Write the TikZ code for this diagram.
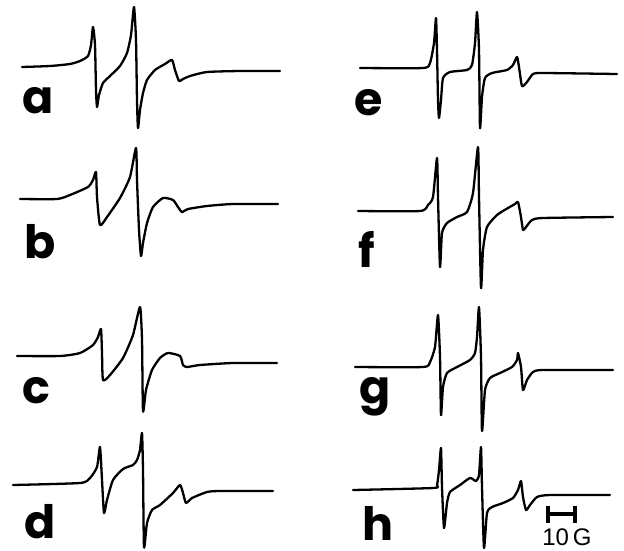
\documentclass[tikz,border=0pt]{standalone}
\usepackage{fontspec}
\setmainfont{Poppins}
\newfontfamily\barfont{Liberation Sans}
\tikzset{
  spec/.style={line width=2.3pt, line join=round, line cap=round, black},
  lab/.style={anchor=base west, inner sep=0pt, text depth=0pt, font=\fontsize{46}{46}\selectfont\bfseries},
  barline/.style={line width=3.5pt, black}
}
\begin{document}
\begin{tikzpicture}[x=1pt,y=-1pt]
\useasboundingbox (0,0) rectangle (624,550);
% a
\draw[spec] plot[smooth, tension=0.35] coordinates {(22,67) (50,66) (70,64) (80,61) (88,56) (91,45) (93,27) (95,45) (96,90) (97,107) (99,95) (103,83) (110,76) (120,66) (127,53) (131,35) (134,7) (136,40) (137,100) (138,128) (140,110) (143,93) (147,80) (155,70) (165,64) (172,60) (175,70) (179,81) (183,79) (190,76) (207,72) (240,71) (280,71)};
\node[lab] (la) at (22,113) {a};
% b
\draw[spec] plot[smooth, tension=0.35] coordinates {(20,199) (57,199) (70,195) (88,187) (93,180) (96,172) (97,197) (100,225) (107,217) (120,198) (130,177) (136,148) (137,180) (139,230) (141,256) (143,243) (147,223) (153,207) (163,198) (173,200) (178,207) (182,212) (188,209) (207,206) (233,204) (278,204)};
\node[lab] (lb) at (24,258) {b};
% c
\draw[spec] plot[smooth, tension=0.35] coordinates {(17,356) (60,356) (80,353) (93,345) (98,337) (101,329) (102,353) (103,380) (110,375) (123,358) (133,335) (140,307) (142,340) (143,411) (146,390) (152,370) (160,358) (168,353) (180,356) (183,365) (187,367) (200,365) (233,363) (277,363)};
\node[lab] (lc) at (22,403) {c};
% d
\draw[spec] plot[smooth, tension=0.35] coordinates {(13,485) (80,483) (90,478) (97,467) (100,447) (102,480) (104,513) (107,500) (113,480) (123,469) (133,465) (137,460) (140,450) (142,433) (143,470) (144,547) (147,523) (152,510) (160,505) (173,493) (180,485) (183,493) (186,503) (192,498) (207,492) (220,491) (273,491)};
\node[lab] (ld) at (24,538) {d};
% e
\draw[spec] plot[smooth, tension=0.35] coordinates {(360,68) (423,68) (430,63) (434,43) (436,18) (437,50) (438,100) (439,118) (441,100) (443,78) (450,72) (467,70) (472,65) (475,43) (477,12) (479,50) (480,128) (482,97) (485,78) (492,73) (507,70) (513,65) (517,57) (519,67) (522,86) (527,82) (533,74) (543,73) (617,74)};
\node[lab] (le) at (354,115) {e};
% f
\draw[spec] plot[smooth, tension=0.35] coordinates {(358,211) (420,211) (428,205) (433,197) (437,158) (438,197) (440,267) (442,233) (447,223) (457,217) (467,212) (473,193) (478,147) (479,197) (481,288) (483,250) (487,227) (497,215) (508,208) (515,204) (518,202) (521,217) (523,230) (526,227) (532,220) (543,218) (613,217)};
\node[lab] (lf) at (358,267) {f};
% g
\draw[spec] plot[smooth, tension=0.35] coordinates {(355,367) (423,367) (430,362) (435,347) (438,315) (440,357) (441,415) (443,387) (447,373) (457,367) (470,360) (475,353) (477,337) (479,307) (481,357) (482,431) (485,390) (490,378) (500,373) (512,367) (517,360) (518,353) (521,367) (523,390) (527,380) (533,372) (543,370) (613,370)};
\node[lab] (lg) at (359,403) {g};
% h
\draw[spec] plot[smooth, tension=0.35] coordinates {(353,490) (433,488) (437,485) (439,470) (441,448) (442,487) (444,528) (447,503) (450,492) (460,485) (470,478) (476,481) (479,475) (481,447) (482,487) (484,548) (487,513) (492,507) (503,503) (513,498) (518,490) (521,481) (523,497) (526,510) (530,505) (537,497) (550,495) (610,495)};
\node[lab] (lh) at (362,540) {h};
% scale bar
\coordinate (bl) at (548,514);
\coordinate (br) at (575,514);
\draw[barline] (bl) -- (br);
\draw[barline] ([yshift=-9pt]bl) -- ([yshift=8pt]bl);
\draw[barline] ([yshift=-9pt]br) -- ([yshift=8pt]br);
\node[anchor=base, inner sep=0pt, text depth=0pt, font=\barfont\fontsize{24}{24}\selectfont] (sb) at (567,545) {10\,G};
\end{tikzpicture}
\end{document}
